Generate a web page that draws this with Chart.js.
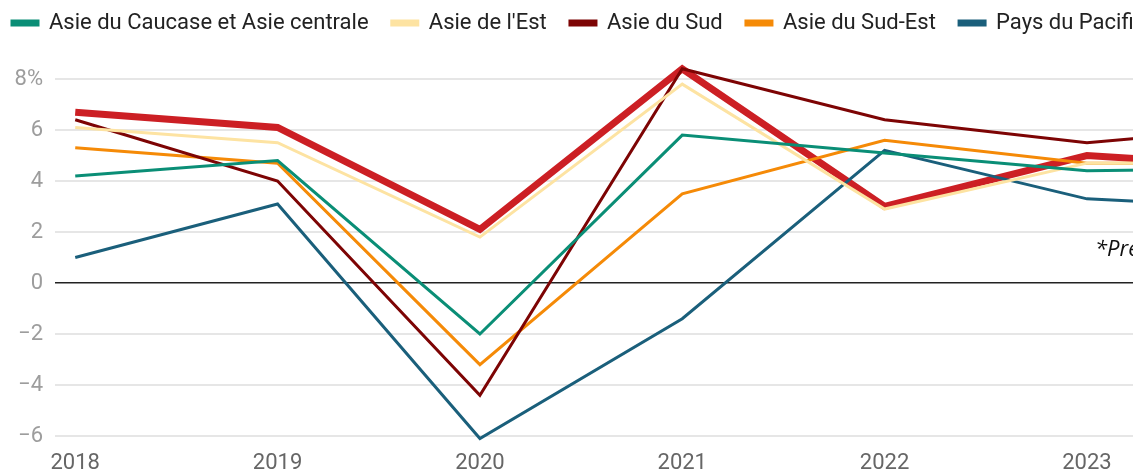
<!DOCTYPE html>
<html>
<head>
<meta charset="utf-8">
<script src="https://cdn.jsdelivr.net/npm/chart.js@4/dist/chart.umd.min.js"></script>
<style>
  html, body { margin: 0; padding: 0; background: #fff; overflow: hidden; }
  #wrap { width: 1133px; height: 472px; overflow: hidden; position: relative; }
  #box { width: 1320px; height: 472px; }
</style>
</head>
<body>
<div id="wrap"><div id="box"><canvas id="myChart"></canvas></div></div>
<script>
// years (2024 = forecast, falls outside the visible window)
const years = [2018, 2019, 2020, 2021, 2022, 2023, 2024];

const caucase = [4.2, 4.8, -2.0, 5.8, 5.1, 4.4, 4.5];
const est = [6.1, 5.5, 1.8, 7.8, 2.9, 4.7, 4.7];
const sud = [6.4, 4.0, -4.4, 8.4, 6.4, 5.5, 6.2];
const sudEst = [5.3, 4.7, -3.2, 3.5, 5.6, 4.7, 4.7];
const pacifique = [1.0, 3.1, -6.1, -1.4, 5.2, 3.3, 2.9];
const asieDev = [6.7, 6.1, 2.1, 8.4, 3.0, 5.0, 4.5];

const yTicks = [-6, -4, -2, 0, 2, 4, 6, 8];
const noteText = "*Prévisions";

function pts(arr) {
  return arr.map((v, i) => ({ x: years[i], y: v }));
}

function serie(label, arr, color, w) {
  return {
    label: label,
    data: pts(arr),
    borderColor: color,
    backgroundColor: color,
    borderWidth: w,
    pointRadius: 0,
    tension: 0,
    clip: false
  };
}

// note "*Prévisions" drawn on the plot
const notePlugin = {
  id: "note",
  afterDatasetsDraw(chart) {
    const c = chart.ctx;
    const x = chart.scales.x.getPixelForValue(2023.04);
    const y = chart.scales.y.getPixelForValue(1.3);
    c.save();
    c.font = "italic 22px 'Open Sans'";
    c.fillStyle = "#111";
    c.textBaseline = "middle";
    c.fillText(noteText, x, y);
    c.restore();
  }
};

// extra room under the legend
const legendMargin = {
  id: "legendMargin",
  beforeInit(chart) {
    const fit = chart.legend.fit;
    chart.legend.fit = function () {
      fit.bind(chart.legend)();
      this.height += 35;
    };
  }
};

const ctx = document.getElementById("myChart").getContext("2d");
const config = {
  type: "line",
  data: {
    datasets: [
      serie("Asie du Caucase et Asie centrale", caucase, "#0a8e76", 3),
      serie("Asie de l'Est", est, "#fde3a2", 3),
      serie("Asie du Sud", sud, "#7d0404", 3),
      serie("Asie du Sud-Est", sudEst, "#f58a07", 3),
      serie("Pays du Pacifique", pacifique, "#1a5f7b", 3),
      serie("Asie en développement", asieDev, "#cc1f24", 7)
    ]
  },
  options: {
    responsive: true,
    maintainAspectRatio: false,
    animation: false,
    layout: { padding: { left: 0, right: 0, top: 0, bottom: 0 } },
    plugins: {
      legend: {
        align: "start",
        labels: {
          boxWidth: 26,
          boxHeight: 4,
          padding: 12,
          color: "#222",
          font: { family: "Roboto", size: 22 },
          filter: (item) => item.datasetIndex < 5,
          generateLabels: (chart) =>
            Chart.defaults.plugins.legend.labels.generateLabels(chart).map((l) => {
              l.text = l.text + "\u2002";
              return l;
            })
        }
      },
      tooltip: { enabled: false }
    },
    scales: {
      x: {
        type: "linear",
        min: 2017.9,
        max: 2024.1,
        grid: { display: false },
        border: { display: false },
        afterFit: (s) => { s.height = 36; },
        ticks: {
          stepSize: 1,
          includeBounds: false,
          padding: 6,
          color: "#666",
          font: { family: "Roboto", size: 22 },
          callback: (v) => String(v)
        }
      },
      y: {
        min: -6,
        max: 8,
        afterFit: (s) => { s.width = 55; },
        afterBuildTicks: (s) => { s.ticks = yTicks.map((v) => ({ value: v })); },
        border: { display: false },
        grid: {
          drawTicks: false,
          lineWidth: (c) => (c.tick && c.tick.value === 0 ? 1.5 : 2),
          color: (c) => (c.tick && c.tick.value === 0 ? "#222" : "#e6e6e6")
        },
        ticks: {
          padding: 12,
          color: "#9d9d9d",
          font: { family: "Roboto", size: 22 },
          callback: (v) => (v === 8 ? "8%" : v < 0 ? "\u2212" + Math.abs(v) : String(v))
        }
      }
    }
  },
  plugins: [notePlugin, legendMargin]
};

new Chart(ctx, config);
</script>
</body>
</html>
